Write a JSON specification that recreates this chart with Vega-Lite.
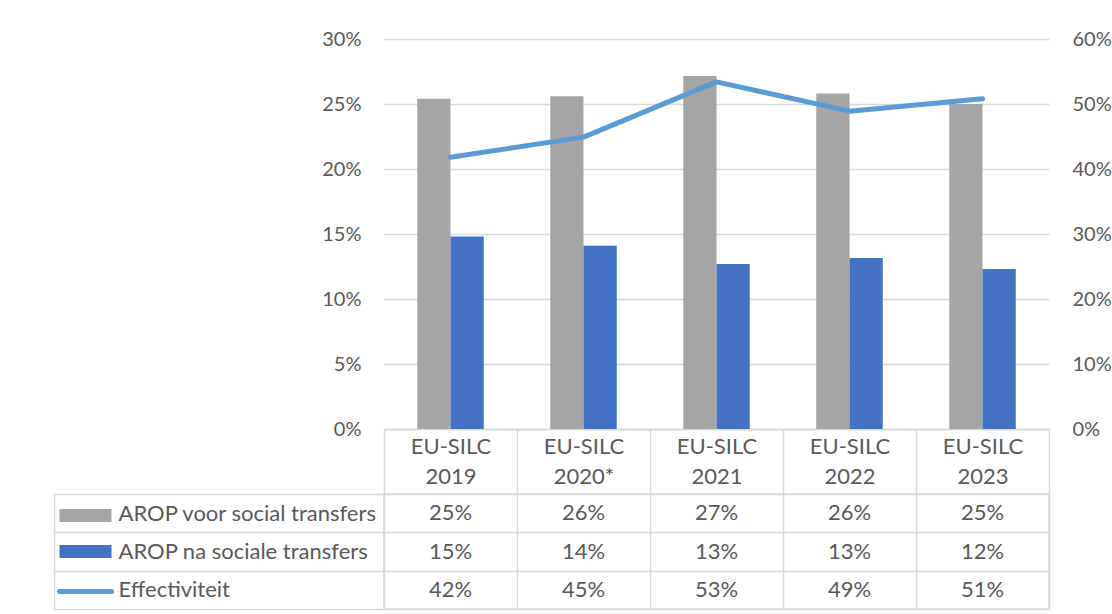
{
  "$schema": "https://vega.github.io/schema/vega-lite/v6.json",
  "background": "white",
  "padding": {"left": 52, "top": 29, "right": 2, "bottom": 4},
  "config": {
    "font": "Lato",
    "axis": {"labelFont": "Lato", "labelColor": "#595959", "labelFontSize": 22, "gridColor": "#d9d9d9", "domainColor": "#d9d9d9", "tickColor": "#d9d9d9", "gridWidth": 1.5, "domainWidth": 1.5, "tickWidth": 1.5},
    "legend": {"labelFont": "Lato"}
  },
  "datasets": {
    "d": [
      {"year": "2019", "series": "AROP voor social transfers", "value": 0.254},
      {"year": "2020*", "series": "AROP voor social transfers", "value": 0.256},
      {"year": "2021", "series": "AROP voor social transfers", "value": 0.2715},
      {"year": "2022", "series": "AROP voor social transfers", "value": 0.258},
      {"year": "2023", "series": "AROP voor social transfers", "value": 0.250},
      {"year": "2019", "series": "AROP na sociale transfers", "value": 0.148},
      {"year": "2020*", "series": "AROP na sociale transfers", "value": 0.141},
      {"year": "2021", "series": "AROP na sociale transfers", "value": 0.127},
      {"year": "2022", "series": "AROP na sociale transfers", "value": 0.1315},
      {"year": "2023", "series": "AROP na sociale transfers", "value": 0.123},
      {"year": "2019", "series": "Effectiviteit", "value": 0.418},
      {"year": "2020*", "series": "Effectiviteit", "value": 0.449},
      {"year": "2021", "series": "Effectiviteit", "value": 0.534},
      {"year": "2022", "series": "Effectiviteit", "value": 0.489},
      {"year": "2023", "series": "Effectiviteit", "value": 0.508}
    ]
  },
  "bounds": "flush",
  "spacing": 65,
  "resolve": {"scale": {"x": "independent"}},
  "vconcat": [
    {
      "width": 665,
      "height": 390,
      "view": {"stroke": null},
      "data": {"name": "d"},
      "layer": [
        {
          "transform": [{"filter": "datum.series !== 'Effectiviteit'"}],
          "mark": {"type": "bar"},
          "encoding": {
            "x": {"field": "year", "type": "nominal", "sort": null, "scale": {"paddingInner": 0, "paddingOuter": 0},
              "axis": {"title": null, "tickBand": "extent", "tickSize": 65, "labelAngle": 0, "labelExpr": "datum.label ? ['EU-SILC', datum.label] : ''", "labelPadding": -58, "labelBaseline": "top", "labelLineHeight": 30}},
            "xOffset": {"field": "series", "type": "nominal", "sort": ["AROP voor social transfers", "AROP na sociale transfers"], "scale": {"paddingInner": 0, "paddingOuter": 1.08}},
            "y": {"field": "value", "type": "quantitative", "scale": {"domain": [0, 0.3]},
              "axis": {"title": null, "values": [0, 0.05, 0.1, 0.15, 0.2, 0.25, 0.3], "format": ".0%", "domain": false, "ticks": false, "labelPadding": 23, "labelFontSize": 20, "grid": true}},
            "color": {"field": "series", "type": "nominal",
              "scale": {"domain": ["AROP voor social transfers", "AROP na sociale transfers", "Effectiviteit"], "range": ["#a5a5a5", "#4472c4", "#5b9bd5"]},
              "legend": {"orient": "none", "legendX": -299, "legendY": 476, "title": null, "padding": 0, "direction": "vertical", "symbolSize": 676, "rowPadding": 23, "labelExpr": "''", "labelFontSize": 1,
                "encode": {"symbols": {"update": {
                  "shape": {"signal": "datum.value === 'Effectiviteit' ? 'M-2,0H2' : 'M-2,-0.5H2V0.5H-2Z'"},
                  "fill": {"signal": "datum.value === 'Effectiviteit' ? 'transparent' : (datum.value === 'AROP voor social transfers' ? '#a5a5a5' : '#4472c4')"},
                  "stroke": {"signal": "datum.value === 'Effectiviteit' ? '#5b9bd5' : 'transparent'"},
                  "strokeWidth": {"signal": "datum.value === 'Effectiviteit' ? 5 : 0"},
                  "strokeCap": {"value": "round"},
                  "opacity": {"value": 1}
                }}}}
            }
          }
        },
        {
          "transform": [{"filter": "datum.series === 'Effectiviteit'"}],
          "mark": {"type": "line", "strokeWidth": 5, "strokeCap": "round", "strokeJoin": "round"},
          "encoding": {
            "x": {"field": "year", "type": "nominal", "sort": null},
            "y": {"field": "value", "type": "quantitative", "scale": {"domain": [0, 0.6]},
              "axis": {"orient": "right", "title": null, "values": [0, 0.1, 0.2, 0.3, 0.4, 0.5, 0.6], "format": ".0%", "domain": false, "ticks": false, "labelPadding": 23, "labelFontSize": 20, "grid": false}},
            "color": {"field": "series", "type": "nominal"}
          }
        }
      ],
      "resolve": {"scale": {"y": "independent"}}
    },
    {
      "width": 665,
      "height": 115,
      "view": {"stroke": "#d9d9d9", "strokeWidth": 1.5},
      "data": {"name": "d"},
      "mark": {"type": "text", "fontSize": 22, "color": "#595959", "font": "Lato"},
      "encoding": {
        "x": {"field": "year", "type": "nominal", "sort": null, "scale": {"paddingInner": 0, "paddingOuter": 0},
          "axis": {"title": null, "labels": false, "ticks": false, "domain": false, "grid": true, "tickBand": "extent"}},
        "y": {"field": "series", "type": "nominal", "sort": ["AROP voor social transfers", "AROP na sociale transfers", "Effectiviteit"], "scale": {"paddingInner": 0, "paddingOuter": 0},
          "axis": {"title": null, "offset": 330, "tickSize": -330, "tickBand": "extent", "labelAlign": "left", "labelPadding": 266, "labelLimit": 0, "grid": true, "domain": true}},
        "text": {"field": "value", "type": "quantitative", "format": ".0%"}
      }
    }
  ]
}
